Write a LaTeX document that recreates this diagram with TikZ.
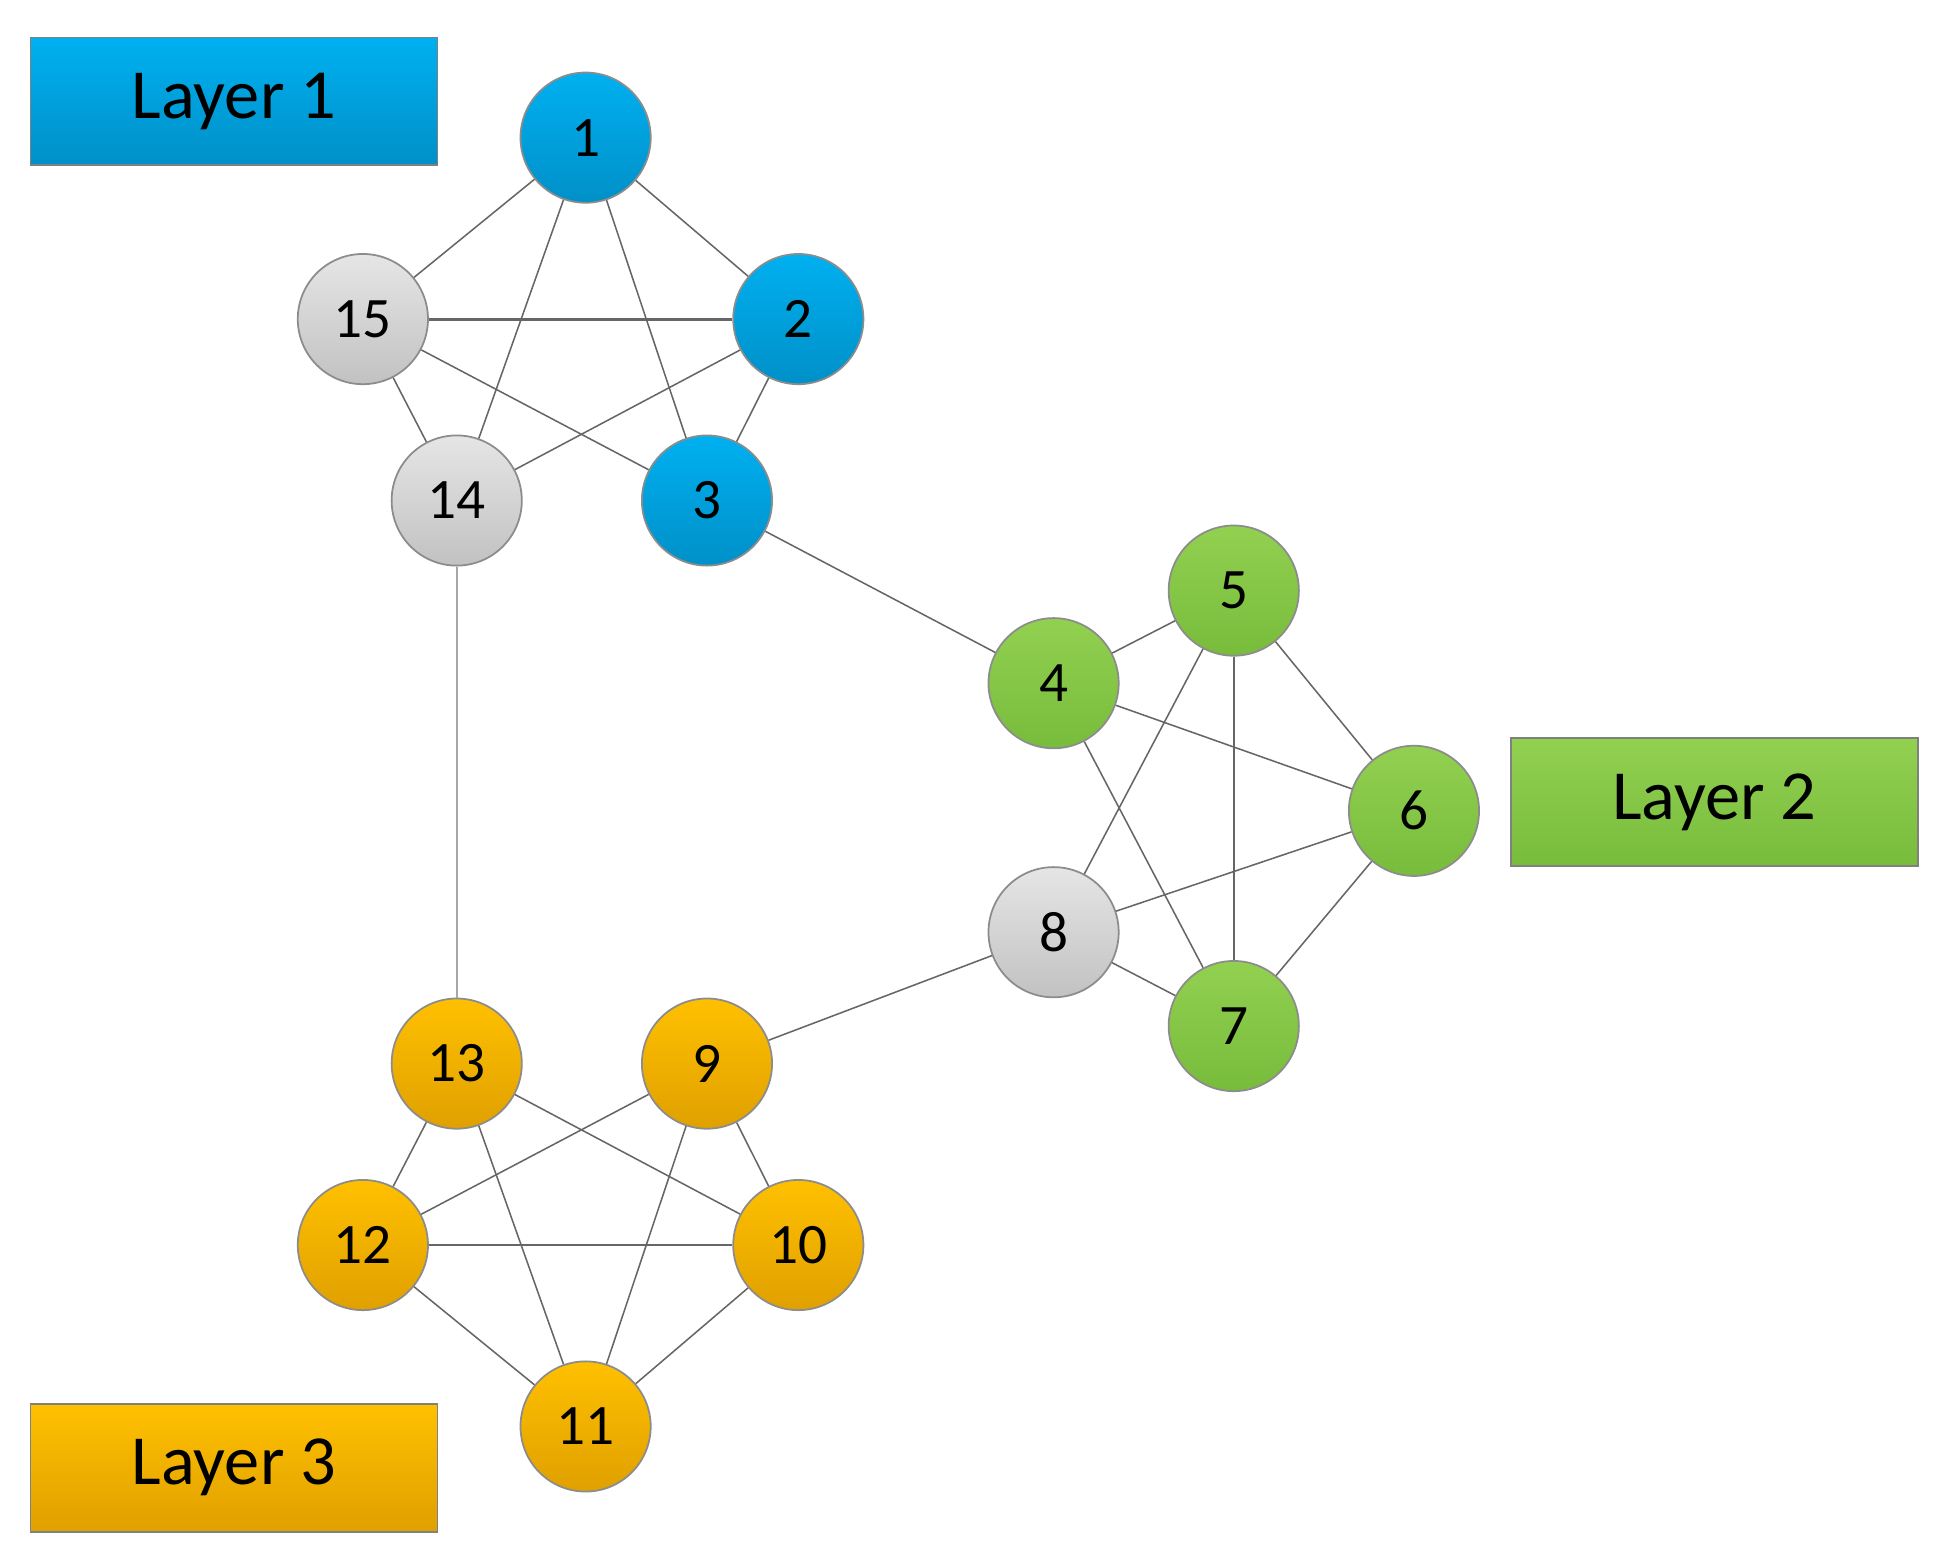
\documentclass[tikz,border=0pt]{standalone}
\usepackage{fontspec}
\setmainfont{Carlito}
\begin{document}
\begin{tikzpicture}[x=0.01cm,y=-0.01cm,
 nd/.style={circle,minimum size=1.04cm,inner sep=0pt,draw=black!45,line width=0.4pt,font=\fontsize{13}{13}\selectfont},
 bl/.style={nd,top color=cyan!90!blue!80!white,bottom color=cyan!70!blue!90!black!95},
 gr/.style={nd,top color=green!55!lime!60!black!10!white,bottom color=green!45!lime!70!black!75},
 gy/.style={nd,top color=black!10,bottom color=black!24},
 or/.style={nd,top color=orange!40!yellow,bottom color=orange!70!yellow!88!black},
 lay/.style={draw=black!50,minimum width=3.25cm,minimum height=1.02cm,font=\fontsize{16}{16}\selectfont},
 e/.style={draw=black!60,line width=0.35pt}]
\useasboundingbox (0,0) rectangle (1560,1248);
\definecolor{b1}{HTML}{00B0F0}\definecolor{b2}{HTML}{0090C8}
\definecolor{g1}{HTML}{92D050}\definecolor{g2}{HTML}{78BC3C}
\definecolor{o1}{HTML}{FFC000}\definecolor{o2}{HTML}{E0A000}
\tikzset{bl/.style={nd,top color=b1,bottom color=b2},gr/.style={nd,top color=g1,bottom color=g2},or/.style={nd,top color=o1,bottom color=o2}}
\node[lay,top color=b1,bottom color=b2] (L1) at (187,81) {Layer 1};
\node[lay,top color=g1,bottom color=g2] (L2) at (1370,641) {Layer 2};
\node[lay,top color=o1,bottom color=o2] (L3) at (187,1173) {Layer 3};
\node[bl] (n1) at (468,110) {1};
\node[bl] (n2) at (638,255) {2};
\node[gy] (n15) at (290,255) {15};
\node[gy] (n14) at (365,400) {14};
\node[bl] (n3) at (565,400) {3};
\node[gr] (n5) at (986,472) {5};
\node[gr] (n4) at (842,546) {4};
\node[gr] (n6) at (1130,648) {6};
\node[gy] (n8) at (842,745) {8};
\node[gr] (n7) at (986,820) {7};
\node[or] (n13) at (365,850) {13};
\node[or] (n9) at (565,850) {9};
\node[or] (n12) at (290,995) {12};
\node[or] (n10) at (638,995) {10};
\node[or] (n11) at (468,1140) {11};
\foreach \a/\b in {n1/n15,n1/n2,n1/n14,n1/n3,n15/n3,n15/n14,n14/n2,n2/n3,n3/n4,
 n4/n5,n4/n6,n4/n7,n5/n8,n5/n7,n5/n6,n6/n8,n6/n7,n8/n7,n8/n9,
 n13/n12,n13/n10,n13/n11,n9/n12,n9/n11,n9/n10,n12/n10,n12/n11,n10/n11}
 \draw[e] (\a) -- (\b);
\draw[e,line width=0.7pt] (n15) -- (n2);
\draw[draw=black!35,line width=0.5pt] (n14) -- (n13);
\end{tikzpicture}
\end{document}
